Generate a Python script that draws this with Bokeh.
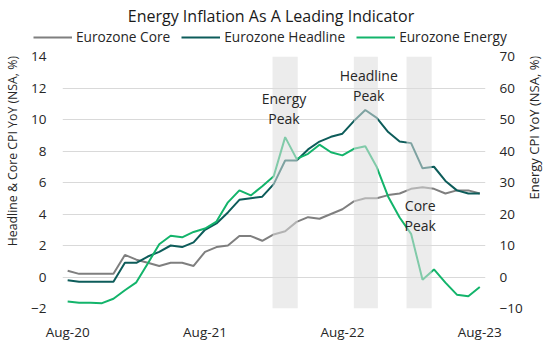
from math import pi
from bokeh.plotting import figure
from bokeh.layouts import column, row
from bokeh.models import (Range1d, LinearAxis, FixedTicker, Legend, LegendItem,
                          Label, ColumnDataSource)
from bokeh.embed import file_html
from bokeh.resources import INLINE
from bokeh.core.properties import value

FONT = "Open Sans"

months = ["Aug-20", "Sep-20", "Oct-20", "Nov-20", "Dec-20",
          "Jan-21", "Feb-21", "Mar-21", "Apr-21", "May-21", "Jun-21", "Jul-21",
          "Aug-21", "Sep-21", "Oct-21", "Nov-21", "Dec-21",
          "Jan-22", "Feb-22", "Mar-22", "Apr-22", "May-22", "Jun-22", "Jul-22",
          "Aug-22", "Sep-22", "Oct-22", "Nov-22", "Dec-22",
          "Jan-23", "Feb-23", "Mar-23", "Apr-23", "May-23", "Jun-23", "Jul-23",
          "Aug-23"]
core = [0.4, 0.2, 0.2, 0.2, 0.2,
        1.4, 1.1, 0.9, 0.7, 0.9, 0.9, 0.7,
        1.6, 1.9, 2.0, 2.6, 2.6,
        2.3, 2.7, 2.9, 3.5, 3.8, 3.7, 4.0,
        4.3, 4.8, 5.0, 5.0, 5.2,
        5.3, 5.6, 5.7, 5.6, 5.3, 5.5, 5.5,
        5.3]
headline = [-0.2, -0.3, -0.3, -0.3, -0.3,
            0.9, 0.9, 1.3, 1.6, 2.0, 1.9, 2.2,
            3.0, 3.4, 4.1, 4.9, 5.0,
            5.1, 5.9, 7.4, 7.4, 8.1, 8.6, 8.9,
            9.1, 9.9, 10.6, 10.1, 9.2,
            8.6, 8.5, 6.9, 7.0, 6.1, 5.5, 5.3,
            5.3]
energy = [-7.8, -8.2, -8.2, -8.3, -6.9,
          -4.2, -1.7, 4.3, 10.4, 13.1, 12.6, 14.3,
          15.4, 17.6, 23.7, 27.5, 25.9,
          28.8, 32.0, 44.4, 37.5, 39.1, 42.0, 39.6,
          38.6, 40.7, 41.5, 34.9, 25.5,
          18.9, 13.7, -0.9, 2.4, -1.8, -5.6, -6.1,
          -3.2]
x_idx = list(range(len(months)))
tick_idx = [0, 12, 24, 36]
series_names = ["Eurozone Core", "Eurozone Headline", "Eurozone Energy"]

# shaded peak windows (month index)
band_left = [17.9, 25.0, 29.6]
band_right = [20.1, 27.1, 31.8]
ann_text = ["Energy\nPeak", "Headline\nPeak", "Core\nPeak"]
ann_x = [18.9, 26.3, 30.8]
ann_y = [11.33, 12.8, 4.52]

TITLE = "Energy Inflation As A Leading Indicator"
YLABEL_L = "Headline & Core CPI YoY (NSA, %)"
YLABEL_R = "Energy CPI YoY (NSA, %)"

C_CORE = "#7f7f7f"
C_HEAD = "#0d5c5a"
C_ENER = "#13b46b"
COLORS = [C_CORE, C_HEAD, C_ENER]
TXT = "#262626"

W, H = 545, 349
TOP_H = 48
LEFT_W = 24
RIGHT_W = 20
MAIN_W = W - LEFT_W - RIGHT_W
MAIN_H = H - TOP_H


def blank(width, height):
    f = figure(width=width, height=height, output_backend="svg",
               toolbar_location=None, x_axis_type=None, y_axis_type=None,
               x_range=Range1d(0, width), y_range=Range1d(0, height),
               min_border=0, outline_line_color=None,
               background_fill_color="white", border_fill_color="white")
    return f


# ---- top strip: title + legend
top = blank(W, TOP_H)
top.add_layout(Label(x=270.5, y=TOP_H - 15, text=TITLE, text_align="center",
                     text_baseline="middle", text_font=FONT,
                     text_font_size="16px", text_color="#1a1a1a"))
dummies = [top.line(x=[-20, -10], y=[-20, -20], color=c, line_width=2)
           for c in COLORS]
legend = Legend(items=[LegendItem(label=n, renderers=[r])
                       for n, r in zip(series_names, dummies)],
                orientation="horizontal", location=(33, 2),
                border_line_color=None, background_fill_alpha=0,
                label_text_font=FONT, label_text_font_size="13.7px",
                label_text_color=TXT, glyph_width=39, glyph_height=14,
                label_standoff=4, spacing=11, padding=0, margin=0,
                label_height=16)
top.add_layout(legend, "center")

# ---- left / right axis titles
left = blank(LEFT_W, MAIN_H)
left.add_layout(Label(x=12, y=MAIN_H - (161 - TOP_H), text=YLABEL_L, angle=pi / 2,
                      text_align="center", text_baseline="middle",
                      text_font=FONT, text_font_size="12.3px", text_color=TXT))
right = blank(RIGHT_W, MAIN_H)
right.add_layout(Label(x=533 - (W - RIGHT_W), y=MAIN_H - (133 - TOP_H), text=YLABEL_R,
                       angle=pi / 2, text_align="center", text_baseline="middle",
                       text_font=FONT, text_font_size="13px", text_color=TXT))

# ---- main chart
p = figure(width=MAIN_W, height=MAIN_H, output_backend="svg", toolbar_location=None,
           x_range=Range1d(-0.45, 36.5), y_range=Range1d(-2, 14),
           min_border_left=62 - LEFT_W, min_border_right=(W - RIGHT_W) - 487,
           min_border_top=56 - TOP_H, min_border_bottom=H - 308,
           background_fill_color="white", border_fill_color="white",
           outline_line_color=None)
p.extra_y_ranges = {"energy": Range1d(-10, 70)}

src = ColumnDataSource(dict(x=x_idx, core=core, headline=headline, energy=energy))
p.line("x", "core", source=src, color=C_CORE, line_width=2)
p.line("x", "headline", source=src, color=C_HEAD, line_width=2)
p.line("x", "energy", source=src, color=C_ENER, line_width=2,
       y_range_name="energy")

# shaded bands drawn over lines
p.quad(left=band_left, right=band_right, top=14, bottom=-2,
       fill_color="#dcdcdc", fill_alpha=0.55, line_color=None)

# annotations
tx, ty, tt = [], [], []
for t, xx, yy in zip(ann_text, ann_x, ann_y):
    for k, line in enumerate(t.split("\n")):
        tx.append(xx)
        ty.append(yy - k * 1.27)
        tt.append(line)
p.text(x=tx, y=ty, text=tt, text_font=value(FONT), text_font_size="14px",
       text_align="center", text_baseline="middle", text_color=TXT)

# axes
p.xaxis.ticker = FixedTicker(ticks=tick_idx)
p.xaxis.major_label_overrides = {i: months[i] for i in tick_idx}
p.yaxis.ticker = FixedTicker(ticks=list(range(-2, 15, 2)))
ax_r = LinearAxis(y_range_name="energy",
                  ticker=FixedTicker(ticks=list(range(-10, 71, 10))))
p.add_layout(ax_r, "right")

for ax in [p.xaxis[0], p.yaxis[0], ax_r]:
    ax.axis_line_color = None
    ax.major_tick_line_color = None
    ax.minor_tick_line_color = None
    ax.major_tick_out = 0
    ax.major_tick_in = 0
    ax.minor_tick_out = 0
    ax.minor_tick_in = 0
    ax.axis_label_standoff = 0
    ax.major_label_text_font = FONT
    ax.major_label_text_font_size = "13.5px"
    ax.major_label_text_color = TXT
p.xaxis.major_label_standoff = 14
p.yaxis[0].major_label_standoff = 16
ax_r.major_label_standoff = 14

p.xgrid.grid_line_color = None
p.ygrid.ticker = FixedTicker(ticks=list(range(-2, 15, 2)))
p.ygrid.grid_line_color = "#d9d9d9"
p.ygrid.grid_line_width = 1

layout = column(top, row(left, p, right, spacing=0), spacing=0)
open("out.html", "w").write(file_html(layout, INLINE))
